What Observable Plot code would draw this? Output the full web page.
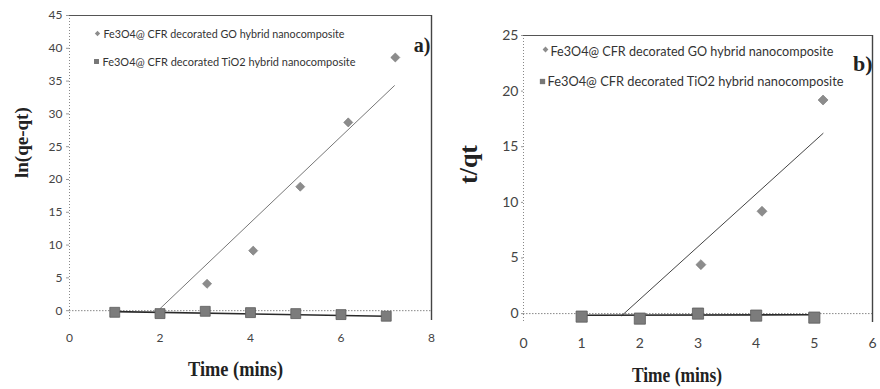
<!DOCTYPE html>
<html><head><meta charset="utf-8">
<script src="https://cdn.jsdelivr.net/npm/d3@7"></script>
<script src="https://cdn.jsdelivr.net/npm/@observablehq/plot@0.6"></script>
<style>
body{margin:0;background:#fff;}
#wrap{display:flex;width:880px;height:389px;overflow:hidden;background:#fff;}
#wrap svg{display:block;flex:none;}
</style></head><body><div id="wrap"></div>
<script>
// ---------- Panel a data ----------
const timeA = [1, 2, 3, 4, 5, 6, 7];
const tio2A = [-0.25, -0.45, -0.1, -0.3, -0.45, -0.6, -0.85];
const goTimeA = [3.04, 4.06, 5.1, 6.16, 7.2];
const goA = [4.1, 9.15, 18.9, 28.7, 38.6];
const goFitTimeA = [2.0, 7.18];
const goFitA = [0.3, 34.3];
const tio2FitTimeA = [1, 7];
const tio2FitA = [-0.15, -0.85];
const xTicksA = [0, 2, 4, 6, 8];
const yTicksA = [0, 5, 10, 15, 20, 25, 30, 35, 40, 45];
const yDomainA = [-1.5, 45];
const xDomainA = [0, 8];

// ---------- Panel b data ----------
const timeB = [1, 2, 3, 4, 5];
const tio2B = [-0.27, -0.45, 0.0, -0.18, -0.36];
const goTimeB = [3.05, 4.1, 5.15];
const goB = [4.4, 9.2, 19.2];
const goFitTimeB = [1.69, 5.15];
const goFitB = [-0.18, 16.2];
const tio2FitTimeB = [1, 5];
const tio2FitB = [-0.15, -0.1];
const xTicksB = [0, 1, 2, 3, 4, 5, 6];
const yTicksB = [0, 5, 10, 15, 20, 25];
const yDomainB = [-0.8, 25];
const xDomainB = [0, 6];

// ---------- Text ----------
const seriesNames = ["Fe3O4@ CFR decorated GO hybrid nanocomposite", "Fe3O4@ CFR decorated TiO2 hybrid nanocomposite"];
const xTitle = "Time (mins)";
const yTitleA = "ln(qe-qt)";
const yTitleB = "t/qt";
const panelTags = ["a)", "b)"];

const zip = (xs, ys) => xs.map((x, i) => ({x, y: ys[i]}));
const diamond = d3.symbolDiamond2 || {draw(ctx, size) {const r = Math.sqrt(size) * 0.62625; ctx.moveTo(0, -r); ctx.lineTo(r, 0); ctx.lineTo(0, r); ctx.lineTo(-r, 0); ctx.closePath();}};

const FONT = "Lato, 'Liberation Sans', sans-serif";
const SERIF = "'Liberation Serif', 'DejaVu Serif', serif";

function panel(o) {
  const svg = Plot.plot({
    width: 440, height: 389,
    marginLeft: o.ml, marginRight: o.mr, marginTop: o.mt, marginBottom: o.mb,
    style: {fontFamily: FONT, background: "transparent", overflow: "visible"},
    x: {domain: o.xDomain},
    y: {domain: o.yDomain},
    marks: [
      Plot.ruleX([o.xDomain[0]], {stroke: "#888", strokeDasharray: "1,2"}),
      Plot.ruleY([0], {stroke: "#888", strokeDasharray: "1.5,1.5"}),
      Plot.ruleY([o.yDomain[1]], {stroke: "#555", strokeWidth: 1.2}),
      Plot.ruleX([o.xDomain[1]], {stroke: "#444", strokeWidth: 1.4}),
      Plot.axisY({ticks: o.yTicks, tickSize: o.yTickSize, tickPadding: o.yPad, tickFormat: d => String(d), fontSize: o.tickFont, stroke: "#999", fill: "#444", label: null}),
      Plot.axisX({ticks: o.xTicks, tickSize: 0, tickPadding: o.xPad, tickFormat: d => String(d), fontSize: o.tickFont, fill: "#444", label: null}),
      Plot.line(zip(o.goFitX, o.goFitY), {x: "x", y: "y", stroke: o.goLine, strokeWidth: 1}),
      Plot.line(zip(o.tiFitX, o.tiFitY), {x: "x", y: "y", stroke: "#2a2a2a", strokeWidth: 1.6}),
      Plot.dot(zip(o.goX, o.goY), {x: "x", y: "y", symbol: diamond, r: o.dr, fill: "#8c8c8c", stroke: "#777", strokeWidth: 0.6}),
      Plot.dot(zip(o.tiX, o.tiY), {x: "x", y: "y", symbol: "square", r: o.sr, fill: "#7c7c7c", stroke: "#5c5c5c", strokeWidth: 0.8}),
      // legend
      Plot.dot([0], {frameAnchor: "top-left", dx: o.lg[0], dy: o.lg[1], symbol: diamond, r: o.lgR, fill: "#8c8c8c"}),
      Plot.text([seriesNames[0]], {frameAnchor: "top-left", dx: o.lg[2], dy: o.lg[3], text: d => d, textAnchor: "start", lineAnchor: "middle", fontSize: o.lgFont, fill: "#333", className: "lg0"}),
      Plot.dot([0], {frameAnchor: "top-left", dx: o.lg[4], dy: o.lg[5], symbol: "square", r: o.lgR + 0.4, fill: "#777"}),
      Plot.text([seriesNames[1]], {frameAnchor: "top-left", dx: o.lg[6], dy: o.lg[7], text: d => d, textAnchor: "start", lineAnchor: "middle", fontSize: o.lgFont, fill: "#333", className: "lg1"}),
      // tag
      Plot.text([o.tag], {frameAnchor: "top-right", dx: o.tagPos[0], dy: o.tagPos[1], text: d => d, textAnchor: "end", lineAnchor: "middle", fontSize: o.tagFont, fontWeight: "bold", fontFamily: SERIF, fill: "#222"}),
      // titles
      Plot.text([xTitle], {frameAnchor: "bottom", dx: o.xt[0], dy: o.xt[1], text: d => d, lineAnchor: "middle", fontSize: o.xtFont, fontWeight: "bold", fontFamily: SERIF, fill: "#222", className: "xt"}),
      Plot.text([o.yTitle], {frameAnchor: "left", dx: o.yt[0], dy: o.yt[1], rotate: -90, text: d => d, lineAnchor: "middle", fontSize: o.ytFont, fontWeight: "bold", fontFamily: SERIF, fill: "#222"})
    ]
  });
  // stretch legend and title text to the widths seen in the reference
  const fit = (cls, len) => svg.querySelectorAll(`g.${cls} text`).forEach(t => { t.setAttribute("textLength", len); t.setAttribute("lengthAdjust", "spacingAndGlyphs"); });
  fit("lg0", o.lgLen[0]);
  fit("lg1", o.lgLen[1]);
  fit("xt", o.xtLen);
  return svg;
}

const a = panel({
  ml: 69, mr: 9, mt: 15, mb: 69,
  xDomain: xDomainA, yDomain: yDomainA, xTicks: xTicksA, yTicks: yTicksA,
  yTickSize: 3, yPad: 4, xPad: 13, tickFont: 12,
  goFitX: goFitTimeA, goFitY: goFitA, tiFitX: tio2FitTimeA, tiFitY: tio2FitA,
  goX: goTimeA, goY: goA, tiX: timeA, tiY: tio2A, goLine: "#777",
  dr: 4.1, sr: 5.6,
  lg: [28, 18, 34, 19, 27, 46, 33, 47], lgR: 2.4, lgFont: 11.5, lgLen: [241, 253],
  tag: panelTags[0], tagPos: [-1, 30], tagFont: 20,
  xt: [-15, 49], xtFont: 21, xtLen: 95, yTitle: yTitleA, yt: [-48, 10], ytFont: 19
});
const b = panel({
  ml: 83, mr: 8, mt: 35, mb: 67,
  xDomain: xDomainB, yDomain: yDomainB, xTicks: xTicksB, yTicks: yTicksB,
  yTickSize: 2, yPad: 3, xPad: 16, tickFont: 14,
  goFitX: goFitTimeB, goFitY: goFitB, tiFitX: tio2FitTimeB, tiFitY: tio2FitB,
  goX: goTimeB, goY: goB, tiX: timeB, tiY: tio2B, goLine: "#444",
  dr: 4.5, sr: 6.3,
  lg: [22, 14, 27, 16, 19, 46, 24, 46], lgR: 2.6, lgFont: 13, lgLen: [283, 296],
  tag: panelTags[1], tagPos: [0, 28], tagFont: 22,
  xt: [-21, 53], xtFont: 21, xtLen: 90, yTitle: yTitleB, yt: [-55, 5], ytFont: 26
});
document.getElementById("wrap").append(a, b);
</script></body></html>
